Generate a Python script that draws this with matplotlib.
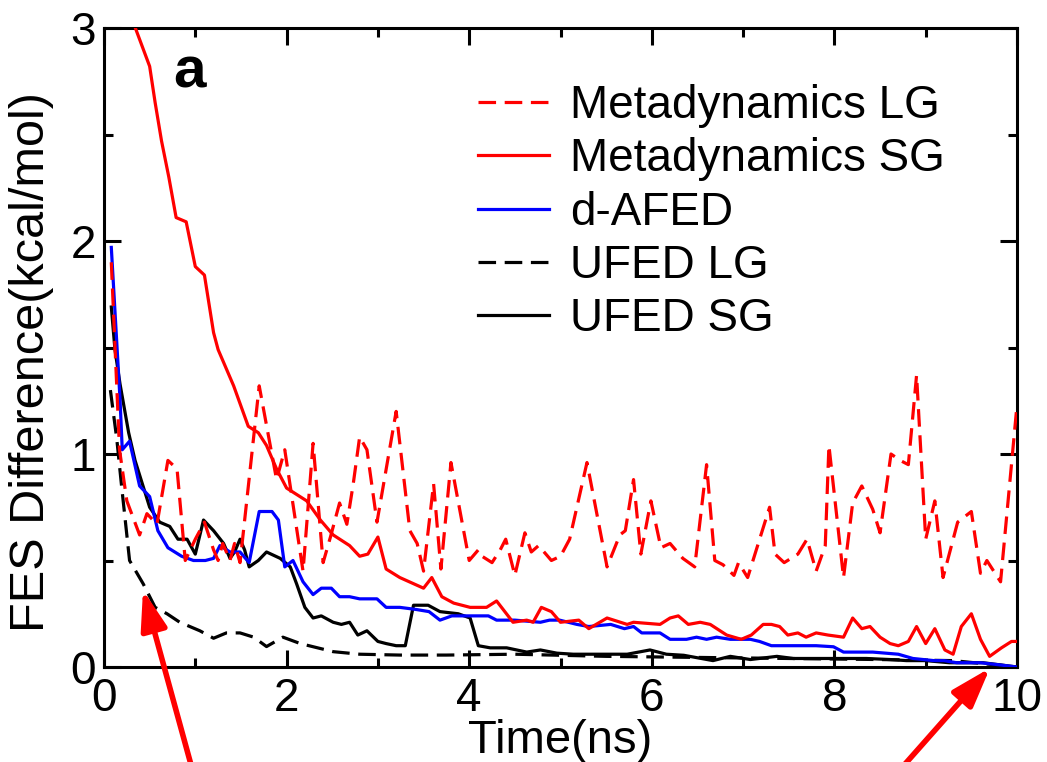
import matplotlib
matplotlib.use("Agg")
import matplotlib.pyplot as plt
from matplotlib.ticker import MultipleLocator

plt.rcParams['font.family'] = ['Liberation Sans', 'DejaVu Sans']

# Metadynamics LG (red dashed)
meta_lg_x = [0.08, 0.17, 0.25, 0.39, 0.47, 0.58, 0.70, 0.80, 0.89, 1.00,
             1.10, 1.20, 1.25, 1.30, 1.38, 1.43, 1.49, 1.70, 1.89, 1.98,
             2.18, 2.29, 2.40, 2.48, 2.58, 2.66, 2.73, 2.80, 2.88, 2.99,
             3.20, 3.35, 3.43, 3.50, 3.61, 3.69, 3.80, 4.00, 4.10, 4.14,
             4.25, 4.34, 4.40, 4.50, 4.61, 4.68, 4.76, 4.90, 5.00, 5.10,
             5.29, 5.51, 5.65, 5.71, 5.80, 5.88, 5.99, 6.10, 6.20, 6.34,
             6.47, 6.60, 6.69, 6.78, 6.90, 6.95, 7.05, 7.29, 7.35, 7.45,
             7.60, 7.70, 7.80, 7.90, 7.94, 8.10, 8.20, 8.30, 8.42, 8.50,
             8.62, 8.72, 8.81, 8.90, 9.00, 9.10, 9.19, 9.35, 9.50, 9.60,
             9.67, 9.82, 10.0]
meta_lg_y = [1.90, 1.02, 0.78, 0.62, 0.72, 0.67, 0.97, 0.93, 0.50, 0.60,
             0.68, 0.55, 0.50, 0.58, 0.50, 0.58, 0.49, 1.32, 0.88, 1.02,
             0.45, 1.05, 0.49, 0.61, 0.77, 0.67, 0.86, 1.08, 1.02, 0.68,
             1.20, 0.64, 0.58, 0.45, 0.86, 0.46, 0.96, 0.50, 0.55, 0.52,
             0.49, 0.55, 0.60, 0.43, 0.63, 0.54, 0.57, 0.50, 0.52, 0.60,
             0.96, 0.47, 0.62, 0.64, 0.88, 0.53, 0.78, 0.56, 0.58, 0.51,
             0.47, 0.95, 0.50, 0.48, 0.43, 0.49, 0.42, 0.75, 0.53, 0.49,
             0.53, 0.60, 0.45, 0.57, 1.04, 0.42, 0.77, 0.85, 0.74, 0.63,
             1.00, 0.97, 0.95, 1.37, 0.60, 0.78, 0.42, 0.68, 0.73, 0.44,
             0.50, 0.40, 1.23]

# Metadynamics SG (red solid)
meta_sg_x = [0.30, 0.50, 0.56, 0.63, 0.71, 0.79, 0.90, 1.00, 1.10, 1.20,
             1.25, 1.42, 1.58, 1.69, 1.78, 1.89, 2.00, 2.22, 2.37, 2.51,
             2.69, 2.80, 2.89, 3.00, 3.09, 3.24, 3.50, 3.59, 3.70, 3.83,
             4.01, 4.19, 4.30, 4.48, 4.63, 4.70, 4.79, 4.90, 5.00, 5.20,
             5.31, 5.51, 5.73, 5.80, 6.09, 6.20, 6.29, 6.40, 6.53, 6.64,
             6.82, 6.98, 7.09, 7.22, 7.31, 7.40, 7.49, 7.60, 7.69, 7.80,
             7.93, 8.10, 8.20, 8.30, 8.39, 8.50, 8.61, 8.70, 8.81, 8.90,
             9.00, 9.10, 9.21, 9.30, 9.39, 9.50, 9.60, 9.70, 9.83, 9.94,
             10.0]
meta_sg_y = [3.05, 2.82, 2.65, 2.47, 2.30, 2.11, 2.09, 1.88, 1.84, 1.57,
             1.49, 1.32, 1.13, 1.10, 1.04, 0.93, 0.84, 0.78, 0.69, 0.62,
             0.57, 0.52, 0.53, 0.61, 0.46, 0.42, 0.37, 0.42, 0.33, 0.30,
             0.28, 0.28, 0.31, 0.21, 0.22, 0.21, 0.28, 0.26, 0.21, 0.22,
             0.18, 0.23, 0.20, 0.21, 0.20, 0.23, 0.24, 0.20, 0.21, 0.20,
             0.15, 0.13, 0.15, 0.20, 0.20, 0.19, 0.15, 0.16, 0.14, 0.16,
             0.15, 0.14, 0.23, 0.18, 0.19, 0.14, 0.11, 0.10, 0.12, 0.19,
             0.11, 0.18, 0.08, 0.06, 0.19, 0.25, 0.13, 0.05, 0.09, 0.12,
             0.12]

# d-AFED (blue)
dafed_x = [0.08, 0.175, 0.20, 0.28, 0.39, 0.50, 0.59, 0.70, 0.85, 0.98,
           1.11, 1.20, 1.27, 1.38, 1.49, 1.59, 1.70, 1.84, 1.91, 1.98,
           2.07, 2.18, 2.29, 2.38, 2.49, 2.58, 2.69, 2.80, 2.99, 3.09,
           3.24, 3.42, 3.56, 3.68, 3.81, 3.97, 4.21, 4.30, 4.50, 4.78,
           4.88, 4.99, 5.18, 5.31, 5.55, 5.70, 5.80, 5.89, 6.09, 6.20,
           6.38, 6.49, 6.60, 6.71, 6.86, 7.08, 7.18, 7.31, 7.69, 7.80,
           7.99, 8.10, 8.28, 8.42, 8.70, 8.86, 9.09, 9.20, 9.34, 9.50,
           9.60, 9.81, 10.0]
dafed_y = [1.97, 1.26, 1.02, 1.06, 0.85, 0.80, 0.64, 0.56, 0.52, 0.50,
           0.50, 0.51, 0.57, 0.54, 0.54, 0.49, 0.73, 0.73, 0.69, 0.47,
           0.50, 0.40, 0.34, 0.37, 0.37, 0.33, 0.33, 0.32, 0.32, 0.28,
           0.28, 0.27, 0.26, 0.22, 0.24, 0.24, 0.24, 0.22, 0.22, 0.21,
           0.22, 0.22, 0.20, 0.19, 0.20, 0.18, 0.19, 0.16, 0.16, 0.13,
           0.13, 0.14, 0.13, 0.14, 0.13, 0.13, 0.12, 0.10, 0.10, 0.10,
           0.095, 0.07, 0.07, 0.07, 0.06, 0.04, 0.03, 0.03, 0.02, 0.02,
           0.02, 0.01, 0.0]

# UFED LG (black dashed)
ufed_lg_x = [0.07, 0.14, 0.19, 0.28, 0.43, 0.56, 0.69, 0.83, 1.05, 1.20,
             1.34, 1.49, 1.64, 1.78, 1.96, 2.15, 2.51, 2.80, 3.24, 3.75,
             4.50, 5.50, 6.50, 7.50, 8.50, 9.30, 10.0]
ufed_lg_y = [1.30, 1.07, 0.86, 0.50, 0.39, 0.28, 0.25, 0.21, 0.17, 0.135,
             0.16, 0.16, 0.14, 0.096, 0.14, 0.11, 0.072, 0.06, 0.056, 0.056,
             0.06, 0.05, 0.045, 0.04, 0.035, 0.03, 0.0]

# UFED SG (black solid)
ufed_sg_x = [0.08, 0.12, 0.175, 0.27, 0.34, 0.50, 0.61, 0.72, 0.81, 0.91,
             1.00, 1.09, 1.20, 1.31, 1.38, 1.43, 1.49, 1.54, 1.59, 1.69,
             1.78, 1.93, 2.04, 2.11, 2.20, 2.29, 2.38, 2.51, 2.60, 2.69,
             2.78, 2.88, 3.00, 3.09, 3.20, 3.30, 3.39, 3.55, 3.68, 3.88,
             4.01, 4.10, 4.23, 4.41, 4.63, 4.78, 4.96, 5.14, 5.43, 5.73,
             5.98, 6.16, 6.35, 6.67, 6.86, 7.08, 7.37, 7.55, 7.99, 8.35,
             8.61, 8.79, 9.00, 9.26, 9.63, 10.0]
ufed_sg_y = [1.69, 1.49, 1.33, 1.10, 0.97, 0.75, 0.68, 0.66, 0.60, 0.60,
             0.53, 0.69, 0.64, 0.58, 0.51, 0.54, 0.60, 0.55, 0.47, 0.50,
             0.54, 0.51, 0.47, 0.39, 0.28, 0.23, 0.24, 0.21, 0.20, 0.21,
             0.15, 0.17, 0.12, 0.11, 0.10, 0.10, 0.29, 0.29, 0.26, 0.25,
             0.23, 0.10, 0.09, 0.09, 0.07, 0.08, 0.065, 0.06, 0.06, 0.06,
             0.08, 0.06, 0.055, 0.03, 0.05, 0.035, 0.05, 0.04, 0.04, 0.04,
             0.035, 0.03, 0.03, 0.02, 0.02, 0.0]

fig = plt.figure(figsize=(10.47, 7.62), dpi=100)
ax = fig.add_axes([104/1047, 95/762, 913/1047, 639/762])

lw = 2.3
dash = (5.5, 2.7)
ax.plot(ufed_sg_x, ufed_sg_y, color='black', lw=lw, label='UFED SG', zorder=2)
ax.plot(ufed_lg_x, ufed_lg_y, color='black', lw=lw, dashes=dash, label='UFED LG', zorder=2)
ax.plot(dafed_x, dafed_y, color='#0000ff', lw=lw, label='d-AFED', zorder=3)
ax.plot(meta_sg_x, meta_sg_y, color='#ff0000', lw=lw, label='Metadynamics SG', zorder=4)
ax.plot(meta_lg_x, meta_lg_y, color='#ff0000', lw=lw, dashes=dash, label='Metadynamics LG', zorder=5)

ax.set_xlim(0, 10)
ax.set_ylim(0, 3)
ax.xaxis.set_major_locator(MultipleLocator(2))
ax.xaxis.set_minor_locator(MultipleLocator(1))
ax.yaxis.set_major_locator(MultipleLocator(1))
ax.yaxis.set_minor_locator(MultipleLocator(0.5))
ax.tick_params(which='both', direction='in', top=True, right=True, width=2.2, labelsize=33)
ax.tick_params(which='major', length=12)
ax.tick_params(which='minor', length=6.5)
ax.tick_params(axis='x', pad=7)
ax.tick_params(axis='y', pad=6)
for s in ax.spines.values():
    s.set_linewidth(2.2)

ax.set_xlabel('Time(ns)', fontsize=34)
ax.set_ylabel('FES Difference(kcal/mol)', fontsize=35)
ax.xaxis.set_label_coords(0.5, -0.082)
ax.yaxis.set_label_coords(-0.055, 0.477)

ax.text(0.76, 2.72, 'a', fontsize=42, fontweight='bold')

handles, labels = ax.get_legend_handles_labels()
order = [4, 3, 2, 1, 0]
ax.legend([handles[i] for i in order], [labels[i] for i in order],
          loc='upper left', bbox_to_anchor=(0.41, 0.912), frameon=False,
          fontsize=33, handlelength=1.55, handletextpad=0.45,
          labelspacing=0.2, borderpad=0, borderaxespad=0)

# red arrows below the axes
arrow_kw = dict(arrowstyle='-|>,head_length=1.2,head_width=0.4', color='#ff0000',
                lw=4, mutation_scale=20, shrinkA=0, shrinkB=0)
ax.annotate('', xy=(143, 172), xycoords='figure pixels',
            xytext=(193, -10), textcoords='figure pixels',
            arrowprops=arrow_kw, annotation_clip=False)
ax.annotate('', xy=(990, 94), xycoords='figure pixels',
            xytext=(898, -10), textcoords='figure pixels',
            arrowprops=arrow_kw, annotation_clip=False)

fig.savefig('out.png', dpi=100)
